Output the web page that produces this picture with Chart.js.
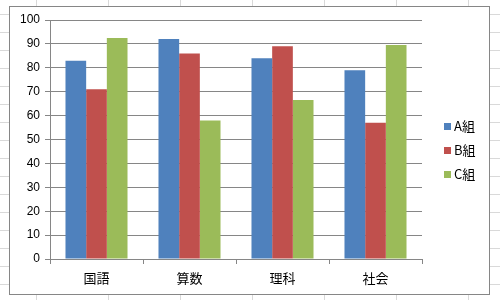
<!DOCTYPE html>
<html>
<head>
<meta charset="utf-8">
<script src="https://cdn.jsdelivr.net/npm/chart.js@4"></script>
<style>
  body { margin: 0; background: #fff; }
  #wrap { width: 500px; height: 300px; }
</style>
</head>
<body>
<div id="wrap"><canvas id="c"></canvas></div>
<script>
const subjects = ['国語', '算数', '理科', '社会'];
const groupNames = ['A組', 'B組', 'C組'];
const groupA = [83, 92, 84, 79];
const groupB = [71, 86, 89, 57];
const groupC = [92.5, 58, 66.5, 89.5];
const groupColors = ['#4F81BD', '#C0504D', '#9BBB59'];

// sheet grid + chart frame behind the chart, legend on the right
const sheetBg = {
    id: 'sheetBg',
    beforeDraw(chart) {
        const ctx = chart.ctx;
        ctx.save();
        ctx.fillStyle = '#fff';
        ctx.fillRect(0, 0, 500, 300);
        ctx.strokeStyle = '#d9d9d9';
        ctx.lineWidth = 1;
        for (let x = 36; x < 500; x += 72) {
            ctx.beginPath(); ctx.moveTo(x + 0.5, 0); ctx.lineTo(x + 0.5, 300); ctx.stroke();
        }
        for (let y = 14; y < 300; y += 18) {
            ctx.beginPath(); ctx.moveTo(0, y + 0.5); ctx.lineTo(500, y + 0.5); ctx.stroke();
        }
        ctx.fillStyle = '#fff';
        ctx.fillRect(9, 6, 480, 288);
        ctx.strokeStyle = '#868686';
        ctx.strokeRect(9.5, 6.5, 480, 288);
        ctx.restore();
    },
    afterDraw(chart) {
        const ctx = chart.ctx;
        ctx.save();
        ctx.font = '13px "Noto Sans CJK JP", sans-serif';
        ctx.textBaseline = 'middle';
        chart.data.datasets.forEach((ds, i) => {
            const y = 126 + i * 24;
            ctx.fillStyle = ds.backgroundColor;
            ctx.fillRect(444, y - 3, 7, 7);
            ctx.fillStyle = '#000';
            ctx.fillText(ds.label, 454, y);
        });
        ctx.restore();
    }
};

new Chart(document.getElementById('c'), {
    type: 'bar',
    data: {
        labels: subjects,
        datasets: [
            { label: groupNames[0], data: groupA, backgroundColor: groupColors[0] },
            { label: groupNames[1], data: groupB, backgroundColor: groupColors[1] },
            { label: groupNames[2], data: groupC, backgroundColor: groupColors[2] }
        ]
    },
    options: {
        responsive: true,
        maintainAspectRatio: false,
        animation: false,
        layout: { padding: { left: 0, top: 20, right: 78, bottom: 0 } },
        datasets: { bar: { categoryPercentage: 0.667, barPercentage: 1 } },
        plugins: {
            legend: { display: false },
            tooltip: { enabled: false }
        },
        scales: {
            x: {
                afterFit(s) { s.height = 41; },
                grid: {
                    drawOnChartArea: false,
                    drawTicks: true,
                    tickLength: 5,
                    color: '#868686',
                    offset: true
                },
                border: { color: '#868686' },
                ticks: {
                    color: '#000',
                    padding: 6,
                    font: { family: '"Noto Sans CJK JP", sans-serif', size: 13 }
                }
            },
            y: {
                min: 0,
                max: 100,
                afterFit(s) { s.width = 50; },
                grid: { color: '#868686', tickLength: 5 },
                border: { color: '#868686' },
                ticks: {
                    stepSize: 10,
                    color: '#000',
                    padding: 5,
                    font: { family: '"Liberation Sans", Arial, sans-serif', size: 12 }
                }
            }
        }
    },
    plugins: [sheetBg]
});
</script>
</body>
</html>
